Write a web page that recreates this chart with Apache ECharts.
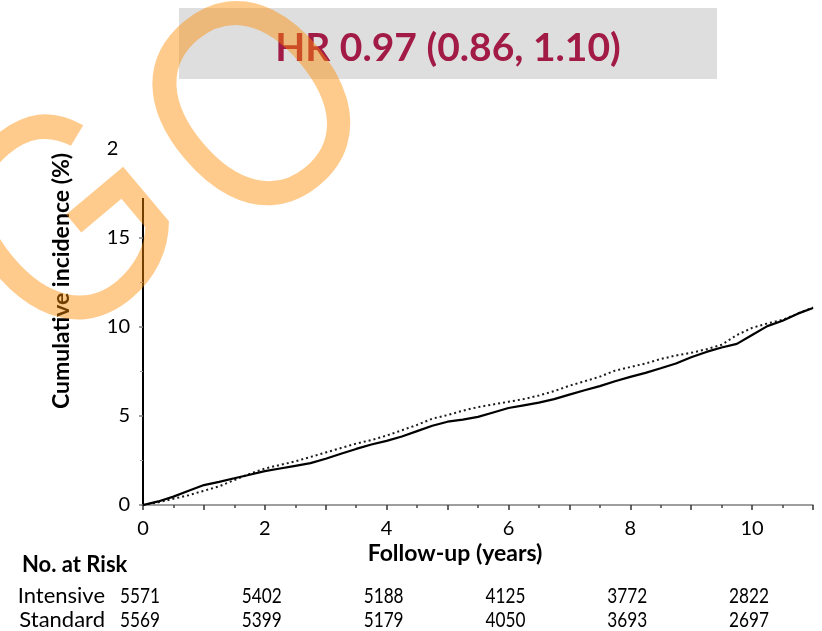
<!DOCTYPE html>
<html>
<head>
<meta charset="utf-8">
<script src="https://cdn.jsdelivr.net/npm/echarts@6/dist/echarts.min.js"></script>
<style>
  html, body { margin: 0; padding: 0; background: #fff; }
  #chart { width: 822px; height: 631px; }
</style>
</head>
<body>
<div id="chart"></div>
<script>
// Follow-up time (years) at which each cumulative incidence value is read
const years = [0, 0.25, 0.5, 0.75, 1, 1.25, 1.5, 1.75, 2, 2.25, 2.5, 2.75, 3, 3.25, 3.5, 3.75,
  4, 4.25, 4.5, 4.75, 5, 5.25, 5.5, 5.75, 6, 6.25, 6.5, 6.75, 7, 7.25, 7.5, 7.75,
  8, 8.25, 8.5, 8.75, 9, 9.25, 9.5, 9.75, 10, 10.25, 10.5, 10.75, 11];

// Cumulative incidence (%) – intensive arm (solid line)
const intensive = [0, 0.2, 0.47, 0.8, 1.12, 1.3, 1.5, 1.7, 1.9, 2.05, 2.2, 2.35, 2.6, 2.88, 3.15, 3.4,
  3.6, 3.85, 4.15, 4.45, 4.68, 4.8, 4.95, 5.2, 5.45, 5.6, 5.75, 5.95, 6.2, 6.45, 6.68, 6.95,
  7.2, 7.42, 7.68, 7.95, 8.3, 8.6, 8.85, 9.05, 9.55, 10.05, 10.35, 10.75, 11.07];

// Cumulative incidence (%) – standard arm (dotted line)
const standard = [0, 0.15, 0.35, 0.55, 0.8, 1.05, 1.4, 1.75, 2.05, 2.25, 2.45, 2.7, 2.95, 3.2, 3.45, 3.65,
  3.9, 4.2, 4.5, 4.85, 5.05, 5.3, 5.5, 5.65, 5.8, 5.95, 6.15, 6.4, 6.7, 6.95, 7.21, 7.55,
  7.75, 7.95, 8.2, 8.4, 8.55, 8.75, 9.0, 9.55, 9.95, 10.2, 10.4, 10.75, 11.1];

// Number at risk table
const riskYears = [0, 2, 4, 6, 8, 10];
const riskIntensive = [5571, 5402, 5188, 4125, 3772, 2822];
const riskStandard = [5569, 5399, 5179, 4050, 3693, 2697];

const hrText = 'HR 0.97 (0.86, 1.10)';
const FONT = 'Lato, "Open Sans", sans-serif';

const chart = echarts.init(document.getElementById('chart'), null, { renderer: 'canvas' });

const pair = (xs, ys) => xs.map((x, i) => [x, ys[i]]);

chart.setOption({
  animation: false,
  backgroundColor: '#ffffff',
  grid: { left: 143, right: 9, top: 149, bottom: 126, containLabel: false },
  xAxis: {
    type: 'value',
    min: 0, max: 11, interval: 1,
    offset: 4,
    axisLine: { show: true, lineStyle: { color: '#7f7f7f', width: 1.5 } },
    axisTick: { show: true, length: 5, lineStyle: { color: '#333', width: 1.5 } },
    minorTick: { show: true, splitNumber: 2, length: 3, lineStyle: { color: '#444', width: 1.5 } },
    splitLine: { show: false },
    axisLabel: {
      color: '#000', fontFamily: FONT, fontSize: 20, margin: 10,
      formatter: v => (v % 2 === 0 ? String(v) : '')
    }
  },
  yAxis: {
    type: 'value',
    min: 0, max: 20, interval: 5,
    offset: 3,
    axisLine: { show: true, lineStyle: { color: '#000', width: 2 } },
    axisTick: { show: true, length: 4, lineStyle: { color: '#808080', width: 1.5 } },
    minorTick: { show: true, splitNumber: 2, length: 3, lineStyle: { color: '#999', width: 1 } },
    splitLine: { show: false },
    axisLabel: { color: '#000', fontFamily: FONT, fontSize: 20, margin: 10 }
  },
  series: [
    {
      name: 'Intensive', type: 'line', data: pair(years, intensive),
      showSymbol: false, smooth: false, z: 3,
      lineStyle: { color: '#000', width: 2.2 }
    },
    {
      name: 'Standard', type: 'line', data: pair(years, standard),
      showSymbol: false, smooth: false, z: 2,
      lineStyle: { color: '#1a1a1a', width: 2, type: [2, 3] }
    }
  ]
});

// Table columns are centred under the matching follow-up year on the x axis
const colX = riskYears.map(y => chart.convertToPixel({ xAxisIndex: 0 }, y) - 3);

const numStyle = t => ({ text: String(t), font: '21px ' + FONT, fill: '#000', textAlign: 'center', textVerticalAlign: 'middle' });
const tableText = [];
colX.forEach((x, i) => {
  tableText.push({ type: 'text', z: 50, x: x, y: 596, scaleX: 0.82, style: numStyle(riskIntensive[i]) });
  tableText.push({ type: 'text', z: 50, x: x, y: 620, scaleX: 0.82, style: numStyle(riskStandard[i]) });
});

const WATERMARK_FONT = '300px "Liberation Sans", Arial, sans-serif';
const WATERMARK_FILL = 'rgba(255,140,0,0.45)';
const WATERMARK_ANGLE = 40 * Math.PI / 180;

chart.setOption({
  graphic: [
    // blank patch above the y axis line
    { type: 'rect', z: 50, shape: { x: 119, y: 135, width: 32, height: 63 }, style: { fill: '#fff' } },
    // axis titles
    {
      type: 'text', z: 50, x: 455, y: 554,
      style: { text: 'Follow-up (years)', font: 'bold 23px ' + FONT, fill: '#000', textAlign: 'center', textVerticalAlign: 'middle' }
    },
    {
      type: 'text', z: 50, x: 62, y: 281, rotation: Math.PI / 2,
      style: { text: 'Cumulative incidence (%)', font: 'bold 23px ' + FONT, fill: '#000', textAlign: 'center', textVerticalAlign: 'middle' }
    },
    // number-at-risk table
    {
      type: 'text', z: 50, x: 22, y: 565,
      style: { text: 'No. at Risk', font: 'bold 22px ' + FONT, fill: '#000', textAlign: 'left', textVerticalAlign: 'middle' }
    },
    {
      type: 'text', z: 50, x: 105, y: 596,
      style: { text: 'Intensive', font: '22px ' + FONT, fill: '#000', textAlign: 'right', textVerticalAlign: 'middle' }
    },
    {
      type: 'text', z: 50, x: 105, y: 620,
      style: { text: 'Standard', font: '22px ' + FONT, fill: '#000', textAlign: 'right', textVerticalAlign: 'middle' }
    },
    ...tableText,
    // hazard ratio banner
    { type: 'rect', z: 60, shape: { x: 179, y: 8, width: 538, height: 71 }, style: { fill: '#dedede' } },
    {
      type: 'text', z: 61, x: 448, y: 48,
      style: { text: hrText, font: 'bold 39px ' + FONT, fill: '#a21a46', textAlign: 'center', textVerticalAlign: 'middle' }
    },
    // translucent "GO" watermark, one glyph at a time
    {
      type: 'text', z: 90, x: 75, y: 234, rotation: WATERMARK_ANGLE, scaleX: 0.85,
      style: { text: 'G', font: WATERMARK_FONT, fill: WATERMARK_FILL, textAlign: 'center', textVerticalAlign: 'middle' }
    },
    {
      type: 'text', z: 90, x: 265, y: 119, rotation: WATERMARK_ANGLE, scaleX: 0.85,
      style: { text: 'O', font: WATERMARK_FONT, fill: WATERMARK_FILL, textAlign: 'center', textVerticalAlign: 'middle' }
    }
  ]
});
</script>
</body>
</html>
